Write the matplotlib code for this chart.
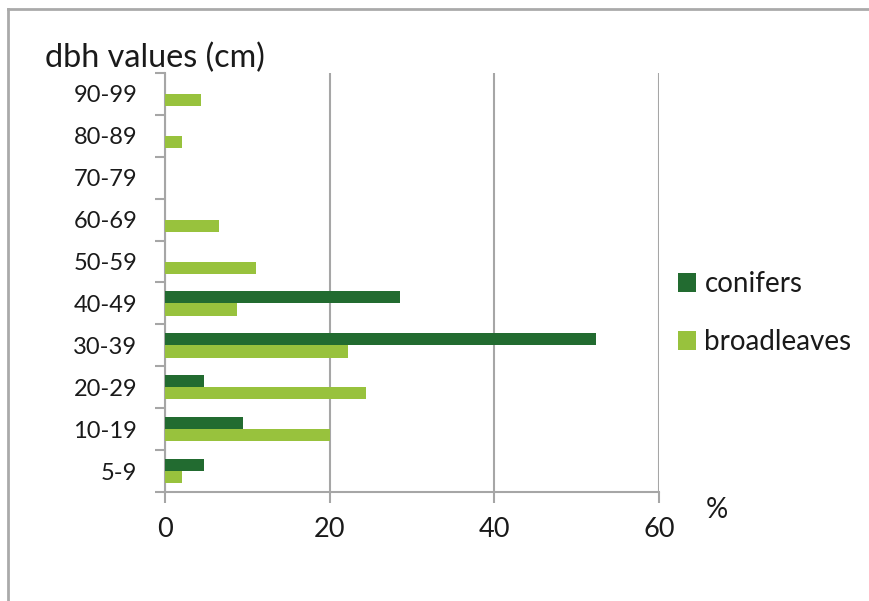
import matplotlib
matplotlib.use("Agg")
import matplotlib.pyplot as plt
from matplotlib.patches import Patch
from matplotlib.lines import Line2D
import numpy as np

categories = ["5-9", "10-19", "20-29", "30-39", "40-49", "50-59", "60-69", "70-79", "80-89", "90-99"]
conifers = [4.7, 9.5, 4.7, 52.4, 28.6, 0, 0, 0, 0, 0]
broadleaves = [2.1, 20.0, 24.4, 22.2, 8.8, 11.0, 6.5, 0, 2.1, 4.4]
x_ticks = [0, 20, 40, 60]

plt.rcParams['font.family'] = ['Lato', 'DejaVu Sans']

dark = "#226b30"
light = "#98c23d"
grey = "#a6a6a6"
txt = "#1a1a1a"

fig = plt.figure(figsize=(8.69, 6.01), dpi=100)
ax = fig.add_axes([165/869, (601-492)/601, (659-165)/869, (492-73)/601])

y = np.arange(len(categories))
h = 0.29
ax.barh(y + h/2, conifers, height=h, color=dark, zorder=3)
ax.barh(y - h/2, broadleaves, height=h, color=light, zorder=3)

ax.set_xlim(0, 60)
ax.set_ylim(-0.5, len(categories) - 0.5)
ax.set_xticks(x_ticks)
ax.set_xticklabels([str(v) for v in x_ticks], fontsize=19.5, color=txt)
ax.set_yticks(y)
ax.set_yticklabels(categories, fontsize=17, color=txt)
ax.set_yticks(np.arange(-0.5, len(categories), 1.0), minor=True)
ax.tick_params(axis='y', which='major', length=0, pad=20)
ax.tick_params(axis='y', which='minor', length=7, width=1.5, color=grey, direction='out')
ax.tick_params(axis='x', which='major', length=8, width=1.5, color=grey, direction='out', pad=10)

for s in ['top', 'right']:
    ax.spines[s].set_visible(False)
for s in ['left', 'bottom']:
    ax.spines[s].set_color(grey)
    ax.spines[s].set_linewidth(1.5)

ax.grid(axis='x', color=grey, linewidth=1.5, zorder=1)
ax.set_axisbelow(True)

fig.text(45/869, 1 - 67/601, "dbh values (cm)", fontsize=23.3, color=txt, ha='left', va='baseline')
fig.text(706/869, 1 - 518/601, "%", fontsize=20, color=txt, ha='left', va='baseline')

handles = [Patch(facecolor=dark, edgecolor='none', label='conifers'),
           Patch(facecolor=light, edgecolor='none', label='broadleaves')]
fig.legend(handles=handles, loc='upper left', bbox_to_anchor=(667/869, 1 - 260/601),
           frameon=False, fontsize=20, handlelength=0.65, handleheight=0.65,
           handletextpad=0.3, labelspacing=1.15, labelcolor=txt, borderaxespad=0)

fig.add_artist(Line2D([8/869, 8/869], [0, 1 - 9/601], transform=fig.transFigure, color="#aaaaaa", linewidth=2))
fig.add_artist(Line2D([8/869, 1], [1 - 9/601, 1 - 9/601], transform=fig.transFigure, color="#aaaaaa", linewidth=2))

fig.savefig("out.png", dpi=100, facecolor="white")
